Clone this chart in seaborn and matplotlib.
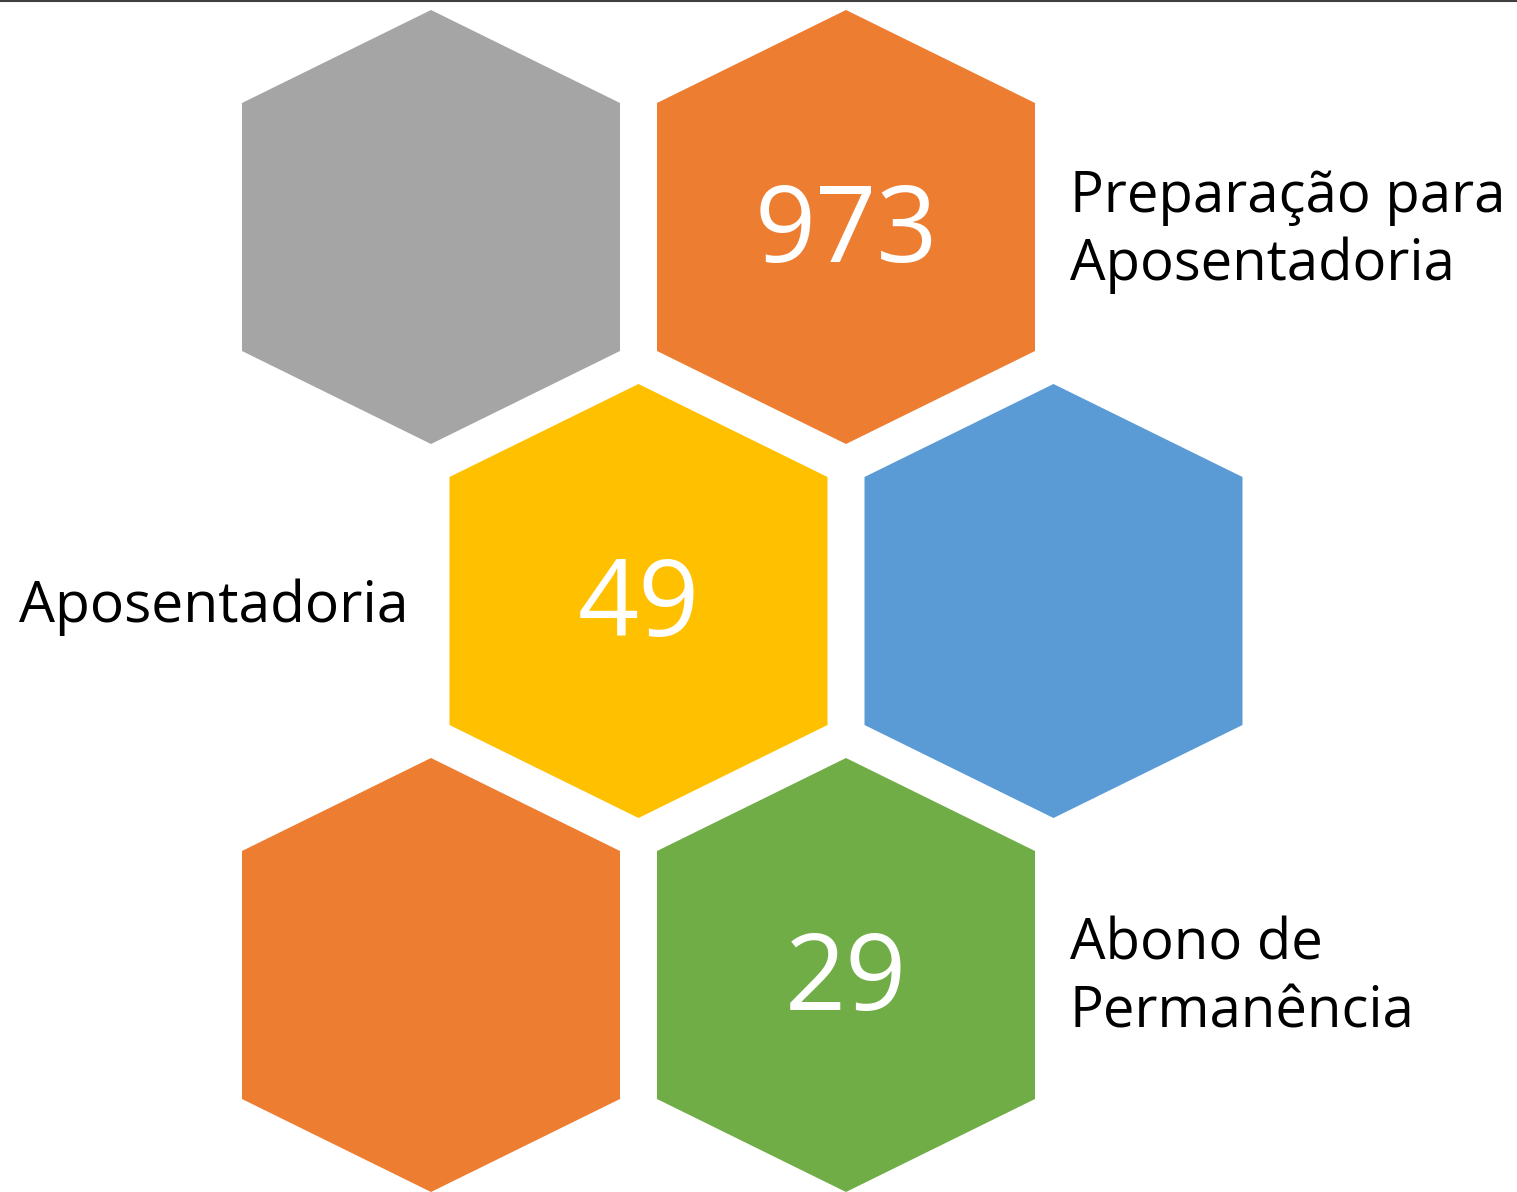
import matplotlib.pyplot as plt
from matplotlib.patches import Polygon
import seaborn as sns

# Set style
sns.set_theme(style="white")
plt.rcParams['font.family'] = ['Open Sans', 'DejaVu Sans']

# Tiles of the hexagon grid (row, column in the grid)
TILE_ROWS = [0, 0, 1, 1, 2, 2]
TILE_COLS = [0, 1, 0, 1, 0, 1]
TILE_COLORS = ['#A5A5A5', '#ED7D31', '#FFC000', '#5B9BD5', '#ED7D31', '#70AD47']
TILE_VALUES = ['', '973', '49', '', '', '29']
TILE_LABELS = [[], ['Preparação para', 'Aposentadoria'], ['Aposentadoria'], [], [],
               ['Abono de', 'Permanência']]
LABEL_SIDE = ['', 'right', 'left', '', '', 'right']

# Layout (pixel coordinates)
W, H = 1517, 1192
X0, Y0 = 431, 227
DX, DY = 415, 374
HALF_W, HALF_H, HALF_SIDE = 189, 217, 124


def hexagon(cx, cy):
    return [(cx, cy - HALF_H), (cx + HALF_W, cy - HALF_SIDE), (cx + HALF_W, cy + HALF_SIDE),
            (cx, cy + HALF_H), (cx - HALF_W, cy + HALF_SIDE), (cx - HALF_W, cy - HALF_SIDE)]


def draw_hexagons():
    fig = plt.figure(figsize=(W / 100, H / 100), dpi=100)
    ax = fig.add_axes([0, 0, 1, 1])
    ax.set_xlim(0, W)
    ax.set_ylim(H, 0)
    ax.set_axis_off()

    for row, col, color, value, label, side in zip(
            TILE_ROWS, TILE_COLS, TILE_COLORS, TILE_VALUES, TILE_LABELS, LABEL_SIDE):
        cx = X0 + col * DX + (DX / 2 if row % 2 else 0)
        cy = Y0 + row * DY
        ax.add_patch(Polygon(hexagon(cx, cy), closed=True, facecolor=color, edgecolor='none'))
        if value:
            ax.text(cx, cy + 35, value, color='white', fontsize=77,
                    ha='center', va='baseline')
        if side == 'right':
            for i, line in enumerate(label):
                ax.text(cx + 224, cy - 15 + 68 * i, line, color='black', fontsize=40.5,
                        ha='left', va='baseline')
        elif side == 'left':
            ax.text(cx - 230, cy + 21, label[0], color='black', fontsize=41,
                    ha='right', va='baseline')

    # thin frame line at the top of the picture
    ax.axhline(1, color='#404040', lw=1.5)

    fig.savefig('out.png', dpi=100)
    plt.close(fig)


if __name__ == "__main__":
    draw_hexagons()
